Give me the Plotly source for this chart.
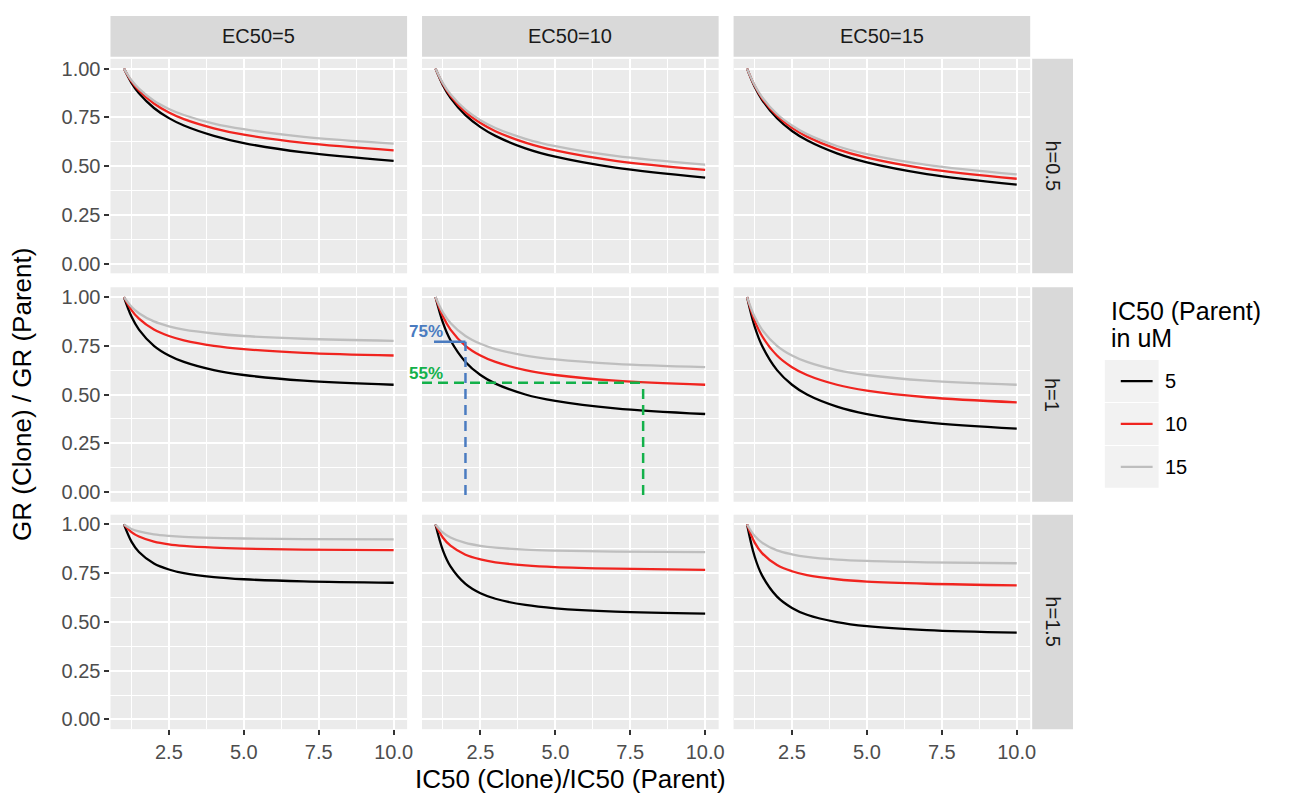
import plotly.graph_objects as go

# ---------------- data ----------------
x_ratio = [1, 1.25, 1.5, 2, 2.5, 3, 4, 5, 7, 10]
ec50_labels = ["EC50=5", "EC50=10", "EC50=15"]
h_labels = ["h=0.5", "h=1", "h=1.5"]
ic50_parent = ["5", "10", "15"]
line_colors = ["#000000", "#F0241F", "#BEBEBE"]

# h = 0.5
h05_ec5_ic5 = [1, 0.927, 0.873, 0.798, 0.746, 0.708, 0.655, 0.618, 0.570, 0.527]
h05_ec5_ic10 = [1, 0.935, 0.888, 0.821, 0.775, 0.741, 0.694, 0.661, 0.619, 0.581]
h05_ec5_ic15 = [1, 0.940, 0.897, 0.835, 0.793, 0.762, 0.718, 0.689, 0.650, 0.615]
h05_ec10_ic5 = [1, 0.914, 0.850, 0.761, 0.700, 0.655, 0.591, 0.548, 0.492, 0.441]
h05_ec10_ic10 = [1, 0.920, 0.861, 0.777, 0.721, 0.679, 0.620, 0.580, 0.527, 0.481]
h05_ec10_ic15 = [1, 0.924, 0.868, 0.789, 0.735, 0.695, 0.640, 0.602, 0.552, 0.507]
h05_ec15_ic5 = [1, 0.908, 0.840, 0.745, 0.680, 0.632, 0.565, 0.519, 0.459, 0.405]
h05_ec15_ic10 = [1, 0.913, 0.848, 0.758, 0.696, 0.651, 0.587, 0.543, 0.486, 0.435]
h05_ec15_ic15 = [1, 0.916, 0.854, 0.767, 0.708, 0.664, 0.603, 0.561, 0.506, 0.457]

# h = 1
h1_ec5_ic5 = [1, 0.900, 0.833, 0.750, 0.700, 0.667, 0.625, 0.600, 0.571, 0.550]
h1_ec5_ic10 = [1, 0.933, 0.889, 0.833, 0.800, 0.778, 0.750, 0.733, 0.714, 0.700]
h1_ec5_ic15 = [1, 0.950, 0.917, 0.875, 0.850, 0.833, 0.813, 0.800, 0.786, 0.775]
h1_ec10_ic5 = [1, 0.867, 0.778, 0.667, 0.600, 0.556, 0.500, 0.467, 0.429, 0.400]
h1_ec10_ic10 = [1, 0.900, 0.833, 0.750, 0.700, 0.667, 0.625, 0.600, 0.571, 0.550]
h1_ec10_ic15 = [1, 0.920, 0.867, 0.800, 0.760, 0.733, 0.700, 0.680, 0.657, 0.640]
h1_ec15_ic5 = [1, 0.850, 0.750, 0.625, 0.550, 0.500, 0.438, 0.400, 0.357, 0.325]
h1_ec15_ic10 = [1, 0.880, 0.800, 0.700, 0.640, 0.600, 0.550, 0.520, 0.486, 0.460]
h1_ec15_ic15 = [1, 0.900, 0.833, 0.750, 0.700, 0.667, 0.625, 0.600, 0.571, 0.550]

# h = 1.5
h15_ec5_ic5 = [1, 0.912, 0.859, 0.800, 0.769, 0.750, 0.730, 0.719, 0.708, 0.701]
h15_ec5_ic10 = [1, 0.961, 0.938, 0.912, 0.898, 0.890, 0.881, 0.876, 0.871, 0.868]
h15_ec5_ic15 = [1, 0.977, 0.964, 0.949, 0.941, 0.936, 0.931, 0.928, 0.925, 0.923]
h15_ec10_ic5 = [1, 0.866, 0.785, 0.695, 0.647, 0.619, 0.587, 0.570, 0.553, 0.543]
h15_ec10_ic10 = [1, 0.932, 0.891, 0.845, 0.821, 0.806, 0.790, 0.781, 0.773, 0.767]
h15_ec10_ic15 = [1, 0.958, 0.933, 0.905, 0.890, 0.881, 0.871, 0.866, 0.861, 0.858]
h15_ec15_ic5 = [1, 0.837, 0.739, 0.630, 0.572, 0.537, 0.499, 0.478, 0.458, 0.445]
h15_ec15_ic10 = [1, 0.908, 0.853, 0.792, 0.760, 0.740, 0.719, 0.707, 0.696, 0.688]
h15_ec15_ic15 = [1, 0.942, 0.907, 0.867, 0.847, 0.834, 0.820, 0.813, 0.806, 0.801]

x_ticks = [2.5, 5.0, 7.5, 10.0]
x_tick_text = ["2.5", "5.0", "7.5", "10.0"]
y_ticks = [0, 0.25, 0.5, 0.75, 1.0]
y_tick_text = ["0.00", "0.25", "0.50", "0.75", "1.00"]

panels = [
    [[h05_ec5_ic5, h05_ec5_ic10, h05_ec5_ic15],
     [h05_ec10_ic5, h05_ec10_ic10, h05_ec10_ic15],
     [h05_ec15_ic5, h05_ec15_ic10, h05_ec15_ic15]],
    [[h1_ec5_ic5, h1_ec5_ic10, h1_ec5_ic15],
     [h1_ec10_ic5, h1_ec10_ic10, h1_ec10_ic15],
     [h1_ec15_ic5, h1_ec15_ic10, h1_ec15_ic15]],
    [[h15_ec5_ic5, h15_ec5_ic10, h15_ec5_ic15],
     [h15_ec10_ic5, h15_ec10_ic10, h15_ec10_ic15],
     [h15_ec15_ic5, h15_ec15_ic10, h15_ec15_ic15]],
]

# ---------------- layout geometry (pixels) ----------------
W, H = 1291, 797
cols_px = [(111, 409), (424, 722), (737, 1035)]
rows_px = [(58, 273), (287, 502), (515, 730)]
FONT = "Liberation Sans, Arial, sans-serif"


def fx(p):
    return p / W


def fy(p):
    return 1 - p / H


fig = go.Figure()
layout = dict(
    width=W, height=H, margin=dict(l=0, r=0, t=0, b=0),
    paper_bgcolor="white", plot_bgcolor="#EBEBEB",
    showlegend=False, font=dict(family=FONT, color="#4D4D4D"),
)
shapes = []
annotations = []

for r in range(3):
    for c in range(3):
        k = r * 3 + c + 1
        xa = "x" if k == 1 else f"x{k}"
        ya = "y" if k == 1 else f"y{k}"
        for s in range(3):
            fig.add_trace(go.Scatter(
                x=x_ratio, y=panels[r][c][s], mode="lines",
                line=dict(color=line_colors[s], width=2.3, shape="spline", smoothing=1.0),
                xaxis=xa, yaxis=ya, name=ic50_parent[s], hoverinfo="x+y+name",
            ))
        bottom = r == 2
        left = c == 0
        layout["xaxis" if k == 1 else f"xaxis{k}"] = dict(
            domain=[fx(cols_px[c][0]), fx(cols_px[c][1])], anchor=ya,
            range=[0.55, 10.45], tickvals=x_ticks, ticktext=x_tick_text,
            showticklabels=bottom, ticks="outside" if bottom else "",
            ticklen=5, tickwidth=1.5, tickcolor="#333333",
            tickfont=dict(size=20, color="#4D4D4D", family=FONT),
            showgrid=True, gridcolor="white", gridwidth=2.2, zeroline=False,
            showline=False, fixedrange=True,
            minor=dict(showgrid=True, gridcolor="white", gridwidth=1.1,
                       tick0=0, dtick=1.25, ticks=""),
        )
        layout["yaxis" if k == 1 else f"yaxis{k}"] = dict(
            domain=[fy(rows_px[r][1]), fy(rows_px[r][0])], anchor=xa,
            range=[-0.05, 1.05], tickvals=y_ticks, ticktext=y_tick_text,
            showticklabels=left, ticks="outside" if left else "",
            ticklen=5, tickwidth=1.5, tickcolor="#333333",
            tickfont=dict(size=20, color="#4D4D4D", family=FONT),
            showgrid=True, gridcolor="white", gridwidth=2.2, zeroline=False,
            showline=False, fixedrange=True,
            minor=dict(showgrid=True, gridcolor="white", gridwidth=1.1,
                       tick0=0, dtick=0.125, ticks=""),
        )

# top strips
for c in range(3):
    shapes.append(dict(type="rect", xref="paper", yref="paper",
                       x0=fx(cols_px[c][0]), x1=fx(cols_px[c][1]),
                       y0=fy(56), y1=fy(15), fillcolor="#D9D9D9", line=dict(width=0),
                       layer="below"))
    annotations.append(dict(text=ec50_labels[c], xref="paper", yref="paper",
                            x=fx((cols_px[c][0] + cols_px[c][1]) / 2), y=fy(35.5),
                            showarrow=False, xanchor="center", yanchor="middle",
                            font=dict(size=20, color="#1A1A1A", family=FONT)))
# right strips
for r in range(3):
    shapes.append(dict(type="rect", xref="paper", yref="paper",
                       x0=fx(1037), x1=fx(1078),
                       y0=fy(rows_px[r][1]), y1=fy(rows_px[r][0]),
                       fillcolor="#D9D9D9", line=dict(width=0), layer="below"))
    annotations.append(dict(text=h_labels[r], xref="paper", yref="paper",
                            x=fx(1057.5), y=fy((rows_px[r][0] + rows_px[r][1]) / 2),
                            showarrow=False, textangle=90, xanchor="center", yanchor="middle",
                            font=dict(size=20, color="#1A1A1A", family=FONT)))

# axis titles
annotations.append(dict(text="IC50 (Clone)/IC50 (Parent)", xref="paper", yref="paper",
                        x=fx(573), y=fy(780), showarrow=False, xanchor="center", yanchor="middle",
                        font=dict(size=26, color="#000000", family=FONT)))
annotations.append(dict(text="GR (Clone) / GR (Parent)", xref="paper", yref="paper",
                        x=fx(22), y=fy(394), showarrow=False, textangle=-90,
                        xanchor="center", yanchor="middle",
                        font=dict(size=26, color="#000000", family=FONT)))

# legend (drawn as in ggplot)
annotations.append(dict(text="IC50 (Parent)", xref="paper", yref="paper",
                        x=fx(1114), y=fy(311), showarrow=False, xanchor="left", yanchor="middle",
                        font=dict(size=25, color="#000000", family=FONT)))
annotations.append(dict(text="in uM", xref="paper", yref="paper",
                        x=fx(1114), y=fy(338), showarrow=False, xanchor="left", yanchor="middle",
                        font=dict(size=25, color="#000000", family=FONT)))
key_centers = [381, 424, 467]
for i, cy in enumerate(key_centers):
    shapes.append(dict(type="rect", xref="paper", yref="paper",
                       x0=fx(1110), x1=fx(1164), y0=fy(cy + 21), y1=fy(cy - 21),
                       fillcolor="#F2F2F2", line=dict(width=0)))
    shapes.append(dict(type="line", xref="paper", yref="paper",
                       x0=fx(1126), x1=fx(1158), y0=fy(cy), y1=fy(cy),
                       line=dict(color=line_colors[i], width=2.3)))
    annotations.append(dict(text=ic50_parent[i], xref="paper", yref="paper",
                            x=fx(1168), y=fy(cy), showarrow=False, xanchor="left",
                            yanchor="middle", font=dict(size=20, color="#000000", family=FONT)))

# highlighted readings in the h=1, EC50=10 panel
blue = "#4A7BC0"
green = "#13B14A"
shapes.append(dict(type="line", xref="x5", yref="y5", x0=2, x1=2, y0=-0.015, y1=0.77,
                   line=dict(color=blue, width=2.5, dash="10px,6px")))
shapes.append(dict(type="line", xref="x5", yref="y5", x0=0.95, x1=2, y0=0.77, y1=0.77,
                   line=dict(color=blue, width=2.5)))
shapes.append(dict(type="line", xref="x5", yref="y5", x0=0.55, x1=7.93, y0=0.56, y1=0.56,
                   line=dict(color=green, width=2.5, dash="10px,6px")))
shapes.append(dict(type="line", xref="x5", yref="y5", x0=7.93, x1=7.93, y0=-0.015, y1=0.56,
                   line=dict(color=green, width=2.5, dash="10px,6px")))
annotations.append(dict(text="<b>75%</b>", xref="paper", yref="paper",
                        x=fx(428), y=fy(331), showarrow=False, xanchor="center", yanchor="middle",
                        font=dict(size=17, color=blue, family=FONT)))
annotations.append(dict(text="<b>55%</b>", xref="paper", yref="paper",
                        x=fx(428), y=fy(373), showarrow=False, xanchor="center", yanchor="middle",
                        font=dict(size=17, color=green, family=FONT)))

layout["shapes"] = shapes
layout["annotations"] = annotations
fig.update_layout(**layout)
fig.write_html(
    "out.html",
    config={"displayModeBar": False},
    post_script="document.body.style.margin='0';document.body.style.overflow='hidden';",
)
